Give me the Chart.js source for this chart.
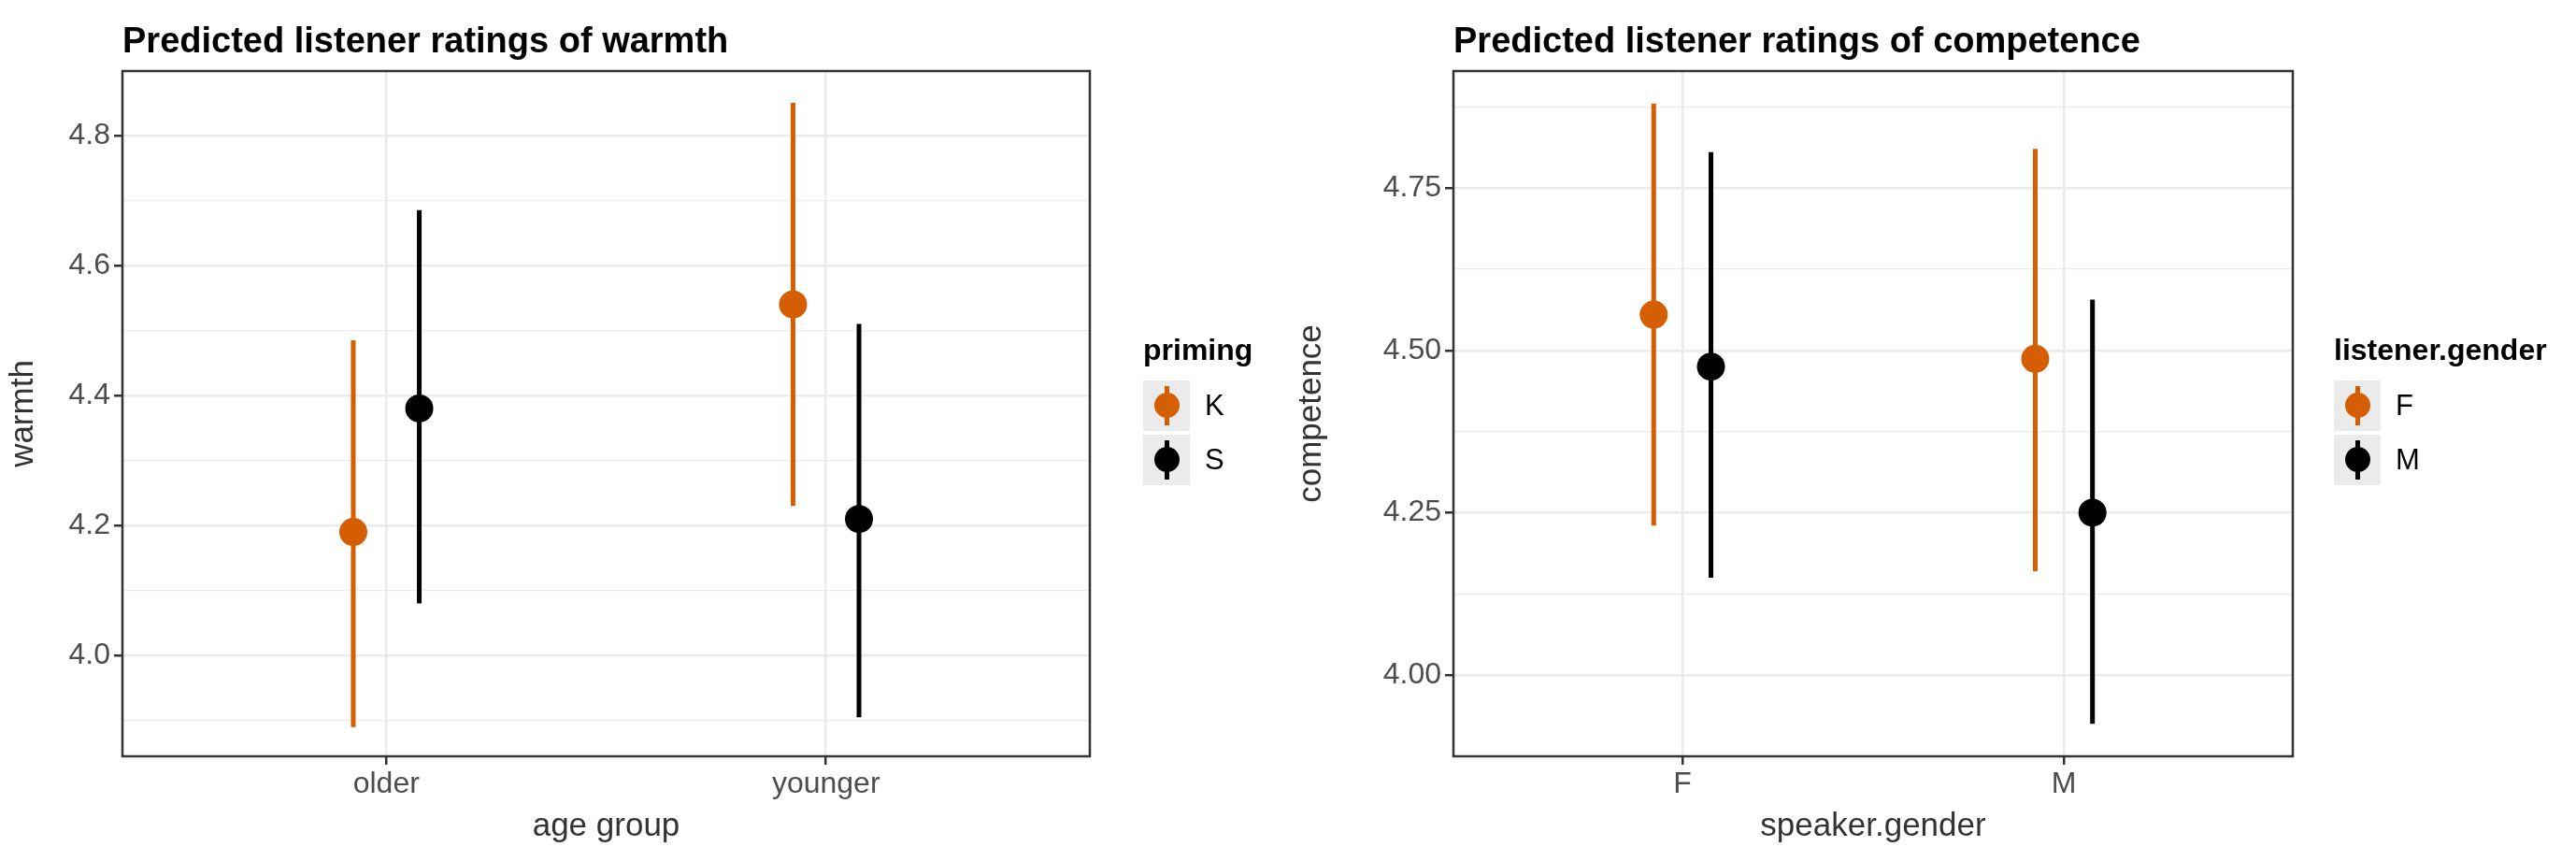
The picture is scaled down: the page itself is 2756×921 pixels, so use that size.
<!DOCTYPE html>
<html>
<head>
<meta charset="utf-8">
<script src="https://cdn.jsdelivr.net/npm/chart.js@4.4.1/dist/chart.umd.min.js"></script>
<style>
  body { margin: 0; background: #fff; font-family: "Liberation Sans", Arial, sans-serif; }
  .panel { position: absolute; top: 0; width: 1378px; height: 921px; }
  .title { position: absolute; top: 22px; font-weight: bold; font-size: 38px; color: #000; }
  .legend { position: absolute; top: 356px; color: #000; }
  .legend .head { font-weight: bold; font-size: 32px; margin-bottom: 14px; }
  .legend .row { display: flex; align-items: center; height: 54px; margin-bottom: 4px; }
  .legend .key { width: 50px; height: 54px; background: #ebebeb; position: relative; margin-right: 16px; }
  .legend .key .bar { position: absolute; left: 23px; top: 6px; width: 5px; height: 42px; }
  .legend .key .dot { position: absolute; left: 12px; top: 13px; width: 27px; height: 27px; border-radius: 50%; }
  .legend .lab { font-size: 31px; }
</style>
</head>
<body>
<div class="panel" style="left:0">
  <canvas id="warmth" width="1378" height="921"></canvas>
  <div class="title" style="left:131px">Predicted listener ratings of warmth</div>
  <div class="legend" style="left:1223px">
    <div class="head">priming</div>
    <div class="row"><div class="key"><div class="bar" style="background:#D55E00"></div><div class="dot" style="background:#D55E00"></div></div><span class="lab">K</span></div>
    <div class="row"><div class="key"><div class="bar" style="background:#000"></div><div class="dot" style="background:#000"></div></div><span class="lab">S</span></div>
  </div>
</div>
<div class="panel" style="left:1378px">
  <canvas id="competence" width="1378" height="921"></canvas>
  <div class="title" style="left:177px">Predicted listener ratings of competence</div>
  <div class="legend" style="left:1119px">
    <div class="head">listener.gender</div>
    <div class="row"><div class="key"><div class="bar" style="background:#D55E00"></div><div class="dot" style="background:#D55E00"></div></div><span class="lab">F</span></div>
    <div class="row"><div class="key"><div class="bar" style="background:#000"></div><div class="dot" style="background:#000"></div></div><span class="lab">M</span></div>
  </div>
</div>
<script>
// warmth panel
const warmthCategories = ["older", "younger"];
const warmthGroups = ["K", "S"];
const warmthEst = { K: [4.19, 4.54], S: [4.38, 4.21] };
const warmthLo = { K: [3.89, 4.23], S: [4.08, 3.905] };
const warmthHi = { K: [4.485, 4.85], S: [4.685, 4.51] };
const warmthTicks = [3.9, 4.0, 4.1, 4.2, 4.3, 4.4, 4.5, 4.6, 4.7, 4.8];
const warmthLabels = [4.0, 4.2, 4.4, 4.6, 4.8];

// competence panel
const compCategories = ["F", "M"];
const compGroups = ["F", "M"];
const compEst = { F: [4.555, 4.487], M: [4.475, 4.25] };
const compLo = { F: [4.23, 4.16], M: [4.15, 3.925] };
const compHi = { F: [4.88, 4.81], M: [4.805, 4.578] };
const compTicks = [3.875, 4.0, 4.125, 4.25, 4.375, 4.5, 4.625, 4.75, 4.875];
const compLabels = [4.0, 4.25, 4.5, 4.75];

const groupColors = ["#D55E00", "#000000"];
const DODGE = 0.075;

const borderPlugin = {
  id: "panelBorder",
  afterDraw(chart) {
    const { ctx, chartArea: a } = chart;
    ctx.save();
    ctx.strokeStyle = "#333333";
    ctx.lineWidth = 2.5;
    ctx.strokeRect(a.left, a.top, a.right - a.left, a.bottom - a.top);
    ctx.restore();
  }
};

function makeChart(id, cats, groups, est, lo, hi, yMin, yMax, ticks, labels, decimals, xTitle, yTitle, yWidth, padRight) {
  const isLabel = v => labels.some(l => Math.abs(l - v) < 1e-6);
  const datasets = [];
  groups.forEach((g, gi) => {
    const off = gi === 0 ? -DODGE : DODGE;
    cats.forEach((c, ci) => {
      datasets.push({
        type: "line",
        data: [{ x: ci + 1 + off, y: lo[g][ci] }, { x: ci + 1 + off, y: hi[g][ci] }],
        borderColor: groupColors[gi], borderWidth: 5, pointRadius: 0, showLine: true
      });
    });
    datasets.push({
      type: "scatter",
      data: cats.map((c, ci) => ({ x: ci + 1 + off, y: est[g][ci] })),
      backgroundColor: groupColors[gi], borderColor: groupColors[gi],
      pointRadius: 15, pointBorderWidth: 0
    });
  });

  new Chart(document.getElementById(id), {
    data: { datasets },
    options: {
      responsive: false, animation: false,
      layout: { padding: { top: 76, right: padRight, left: 0, bottom: 12 } },
      plugins: { legend: { display: false }, tooltip: { enabled: false } },
      scales: {
        x: {
          type: "linear", min: 0.4, max: 2.6,
          afterBuildTicks: s => { s.ticks = cats.map((c, i) => ({ value: i + 1 })); },
          afterFit: s => { s.height = 100; },
          ticks: { callback: v => cats[Math.round(v) - 1], color: "#4d4d4d", font: { size: 32, family: "Liberation Sans" }, padding: 2 },
          grid: { color: "#ebebeb", lineWidth: 2.5, tickColor: "#333333", tickLength: 9 },
          border: { display: false },
          title: { display: true, text: xTitle, color: "#333", font: { size: 35, family: "Liberation Sans" }, padding: { top: 0 } }
        },
        y: {
          type: "linear", min: yMin, max: yMax,
          afterBuildTicks: s => { s.ticks = ticks.map(v => ({ value: v })); },
          afterFit: s => { s.width = yWidth; },
          ticks: {
            callback: v => isLabel(v) ? v.toFixed(decimals) : "",
            color: "#4d4d4d", font: { size: 32, family: "Liberation Sans" }, padding: 4
          },
          grid: {
            color: "#ebebeb",
            lineWidth: c => isLabel(c.tick.value) ? 2.5 : 1.3,
            tickColor: c => isLabel(c.tick.value) ? "#333333" : "rgba(0,0,0,0)",
            tickLength: 9
          },
          border: { display: false },
          title: { display: true, text: yTitle, color: "#333", font: { size: 35, family: "Liberation Sans" }, padding: { bottom: 2 } }
        }
      }
    },
    plugins: [borderPlugin]
  });
}

makeChart("warmth", warmthCategories, warmthGroups, warmthEst, warmthLo, warmthHi,
  3.845, 4.899, warmthTicks, warmthLabels, 1, "age group", "warmth", 131, 212);
makeChart("competence", compCategories, compGroups, compEst, compLo, compHi,
  3.875, 4.93, compTicks, compLabels, 2, "speaker.gender", "competence", 177, 303);
</script>
</body>
</html>
